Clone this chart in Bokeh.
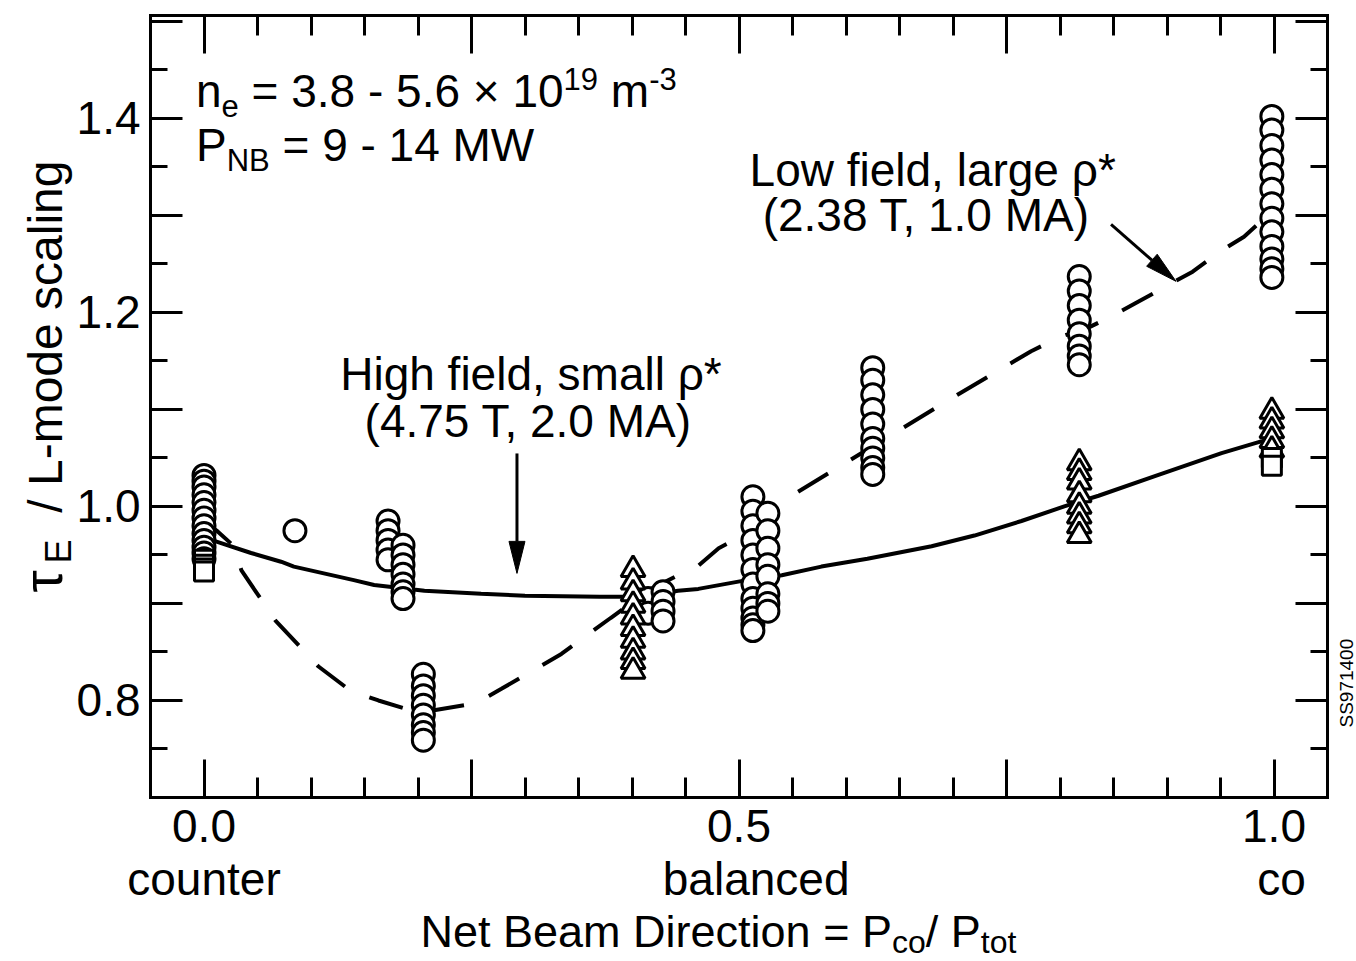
import math

from bokeh.plotting import figure
from bokeh.models import Range1d, LinearAxis, FixedTicker, Label, Grid
from bokeh.embed import file_html
from bokeh.resources import INLINE

FONT = "Liberation Sans"

# ---- measured confinement (tau_E normalised to L-mode scaling) ----
# open circles
circle_x = ([0.0] * 13 + [0.085] + [0.172] * 5 + [0.186] * 7 + [0.205] * 8
            + [0.415] * 2 + [0.429] * 4 + [0.513] * 12 + [0.527] * 8
            + [0.625] * 10 + [0.818] * 8 + [0.998] * 13)
circle_y = ([1.032, 1.026, 1.020, 1.012, 1.004, 0.996, 0.988, 0.980, 0.972, 0.965, 0.958, 0.952, 0.946]
            + [0.975]
            + [0.985, 0.975, 0.965, 0.955, 0.945]
            + [0.960, 0.950, 0.940, 0.930, 0.920, 0.912, 0.905]
            + [0.827, 0.815, 0.805, 0.795, 0.785, 0.775, 0.767, 0.759]
            + [0.905, 0.890]
            + [0.912, 0.902, 0.892, 0.882]
            + [1.010, 0.995, 0.980, 0.965, 0.950, 0.935, 0.920, 0.905, 0.895, 0.885, 0.878, 0.872]
            + [0.993, 0.975, 0.957, 0.940, 0.928, 0.910, 0.900, 0.892]
            + [1.143, 1.130, 1.115, 1.100, 1.085, 1.070, 1.060, 1.050, 1.040, 1.033]
            + [1.237, 1.222, 1.207, 1.192, 1.178, 1.165, 1.155, 1.146]
            + [1.402, 1.388, 1.372, 1.357, 1.342, 1.327, 1.312, 1.297, 1.283, 1.268, 1.255, 1.245, 1.236])

# open triangles
triangle_x = [0.401] * 10 + [0.818] * 8 + [0.998] * 5
triangle_y = ([0.935, 0.922, 0.910, 0.898, 0.886, 0.874, 0.862, 0.850, 0.840, 0.830]
              + [1.045, 1.035, 1.025, 1.012, 1.000, 0.990, 0.980, 0.970]
              + [1.098, 1.088, 1.078, 1.068, 1.058])

# open squares
square_x = [0.0] * 4 + [0.998] * 2
square_y = [0.945, 0.940, 0.936, 0.933, 1.050, 1.042]

# high field, small rho* (solid curve)
high_x = [0.0, 0.011, 0.044, 0.072, 0.084, 0.140, 0.159, 0.206, 0.259, 0.300, 0.370, 0.410,
          0.443, 0.462, 0.502, 0.540, 0.577, 0.620, 0.680, 0.720, 0.764, 0.804, 0.836,
          0.888, 0.951, 0.988, 1.0]
high_y = [0.970, 0.964, 0.952, 0.943, 0.938, 0.924, 0.919, 0.913, 0.910, 0.908, 0.907, 0.907,
          0.913, 0.915, 0.923, 0.929, 0.938, 0.946, 0.959, 0.970, 0.985, 1.000, 1.011,
          1.031, 1.055, 1.067, 1.070]

# low field, large rho* (dashed curve)
low_x = [0.0, 0.013, 0.027, 0.035, 0.051, 0.067, 0.091, 0.107, 0.137, 0.163, 0.193, 0.215,
         0.254, 0.278, 0.334, 0.380, 0.418, 0.443, 0.462, 0.481, 0.502, 0.536, 0.555,
         0.625, 0.707, 0.773, 0.801, 0.826, 0.850, 0.873, 0.901, 0.924, 0.950, 0.972,
         0.988, 1.0]
low_y = [0.985, 0.974, 0.960, 0.934, 0.908, 0.882, 0.854, 0.835, 0.810, 0.800, 0.790, 0.790,
         0.797, 0.812, 0.848, 0.885, 0.915, 0.929, 0.939, 0.957, 0.969, 1.001, 1.015,
         1.062, 1.117, 1.160, 1.175, 1.184, 1.197, 1.211, 1.228, 1.242, 1.263, 1.278,
         1.294, 1.300]

# axis ticks
x_major = [0.0, 0.25, 0.5, 0.75, 1.0]
x_minor = [-0.05, 0.05, 0.1, 0.15, 0.2, 0.3, 0.35, 0.4, 0.45, 0.55, 0.6, 0.65, 0.7,
           0.8, 0.85, 0.9, 0.95, 1.05]
x_labels = {0.0: "0.0", 0.25: "", 0.5: "0.5", 0.75: "", 1.0: "1.0"}
x_words = ["counter", "balanced", "co"]
x_word_pos = [0.0, 0.516, 1.007]

y_major = [0.7, 0.8, 0.9, 1.0, 1.1, 1.2, 1.3, 1.4, 1.5]
y_minor = [0.75, 0.85, 0.95, 1.05, 1.15, 1.25, 1.35, 1.45]
y_labels = {0.7: "", 0.8: "0.8", 0.9: "", 1.0: "1.0", 1.1: "", 1.2: "1.2",
            1.3: "", 1.4: "1.4", 1.5: ""}

X_BOX = (-0.05, 1.05)
Y_BOX = (0.7, 1.506)

# ---- page geometry (pixels) ----
PAGE_W, PAGE_H = 1356, 961
BOX_L, BOX_R, BOX_T, BOX_B = 150, 1327, 15, 797
PX_PER_X = (BOX_R - BOX_L) / (X_BOX[1] - X_BOX[0])
PX_PER_Y = (BOX_B - BOX_T) / (Y_BOX[1] - Y_BOX[0])

# the drawing area spans the whole page; the axes are pinned to the box edges
x_range = Range1d(X_BOX[0] - BOX_L / PX_PER_X, X_BOX[1] + (PAGE_W - BOX_R) / PX_PER_X)
y_range = Range1d(Y_BOX[0] - (PAGE_H - BOX_B) / PX_PER_Y, Y_BOX[1] + BOX_T / PX_PER_Y)


def dx(px):
    """Data x of a horizontal page pixel."""
    return x_range.start + px / PX_PER_X


def dy(py):
    """Data y of a vertical page pixel (measured from the top)."""
    return y_range.end - py / PX_PER_Y


# approximate advance widths (1/1000 em) of the sans face, used to chain
# sub/superscript pieces of a label
ADV = {" ": 278, "(": 333, ")": 333, "*": 389, ",": 278, "-": 333, ".": 278, "/": 278,
       "=": 584, "\u00d7": 584, "A": 667, "B": 667, "D": 722, "E": 667, "L": 556,
       "M": 833, "N": 722, "P": 667, "T": 611, "W": 944, "a": 556, "b": 556, "c": 500,
       "d": 556, "e": 556, "f": 278, "g": 556, "i": 222, "l": 222, "m": 833, "n": 556,
       "o": 556, "r": 333, "s": 500, "t": 278, "\u03c4": 520}

# labels land a little below the requested baseline; lift them by this share of the size
BASE_LIFT = 0.32


def advance(text, size):
    return sum(ADV.get(ch, 556) for ch in text) * size / 1000.0


def put(plot, x, y, text, size, align="left", along=0.0, rise=0.0, vertical=False):
    rise = rise + BASE_LIFT * size
    if vertical:
        xo, yo, ang = -rise, along, math.pi / 2
    else:
        xo, yo, ang = along, rise, 0.0
    plot.add_layout(Label(x=x, y=y, x_offset=xo, y_offset=yo, angle=ang, text=text,
                          text_font=FONT, text_font_size=f"{size}px", text_color="black",
                          text_align=align, text_baseline="alphabetic"))


def rich_text(plot, x, y, parts, vertical=False):
    """Place a run of (text, font px, baseline shift px) pieces one after another."""
    pos = 0.0
    for text, size, shift in parts:
        lead = len(text) - len(text.lstrip(" "))
        pos += advance(" " * lead, size)
        body = text[lead:]
        put(plot, x, y, body.rstrip(" "), size, along=pos, rise=shift, vertical=vertical)
        pos += advance(body, size)


p = figure(width=PAGE_W, height=PAGE_H, x_range=x_range, y_range=y_range,
           output_backend="svg", toolbar_location=None,
           x_axis_location=None, y_axis_location=None, min_border=0)
for g in p.select(type=Grid):
    g.visible = False
p.background_fill_color = "white"
p.border_fill_color = "white"
p.outline_line_color = None


def box_axis(side, ticker, where, major_len, minor_len, overrides, size, standoff):
    ax = LinearAxis(ticker=ticker, fixed_location=where,
                    bounds=X_BOX if side in ("below", "above") else Y_BOX)
    ax.axis_line_color = "black"
    ax.axis_line_width = 3
    ax.axis_line_cap = "square"
    ax.major_tick_in = major_len
    ax.major_tick_out = 0
    ax.minor_tick_in = minor_len
    ax.minor_tick_out = 0
    ax.major_tick_line_width = 3
    ax.minor_tick_line_width = 3
    ax.major_tick_line_color = "black"
    ax.minor_tick_line_color = "black"
    ax.major_label_overrides = overrides
    ax.major_label_text_font = FONT
    ax.major_label_text_color = "black"
    ax.major_label_text_font_size = f"{size}px"
    ax.major_label_standoff = standoff
    p.add_layout(ax, side)
    return ax


xticker = FixedTicker(ticks=x_major, minor_ticks=x_minor)
yticker = FixedTicker(ticks=y_major, minor_ticks=y_minor)

box_axis("below", xticker, Y_BOX[0], 38, 20, x_labels, 46, 12)
box_axis("left", yticker, X_BOX[0], 32, 17, y_labels, 46, 10)
box_axis("above", xticker, Y_BOX[1], 38, 20, {t: "" for t in x_major}, 10, 0)
box_axis("right", yticker, X_BOX[1], 32, 17, {t: "" for t in y_major}, 10, 0)

# model curves
p.line(high_x, high_y, line_color="black", line_width=4)
p.line(low_x, low_y, line_color="black", line_width=4, line_dash="35 27")

# data points
p.scatter(circle_x, circle_y, marker="circle", size=22, fill_color="white",
          line_color="black", line_width=3)
p.scatter(triangle_x, triangle_y, marker="triangle", size=24, fill_color="white",
          line_color="black", line_width=3)
p.scatter(square_x, square_y, marker="square", size=19, fill_color="white",
          line_color="black", line_width=3)

# plasma conditions
rich_text(p, -0.0075, 1.413, [("n", 46, 0), ("e", 31, -10),
                              (" = 3.8 - 5.6 \u00d7 10", 46, 0), ("19", 31, 17),
                              (" m", 46, 0), ("-3", 31, 17)])
rich_text(p, -0.0075, 1.357, [("P", 46, 0), ("NB", 31, -10), (" = 9 - 14 MW", 46, 0)])

# curve annotations
for txt, xx, yy in [("Low field, large \u03c1*", 0.681, 1.332),
                    ("(2.38 T, 1.0 MA)", 0.675, 1.285),
                    ("High field, small \u03c1*", 0.3056, 1.1216),
                    ("(4.75 T, 2.0 MA)", 0.303, 1.073)]:
    put(p, xx, yy, txt, 46, align="center")


def pointer(plot, xs, ys, xe, ye, head_len=32, head_half=8):
    """Straight pointer with a slim filled head, sized in pixels."""
    ddx, ddy = (xe - xs) * PX_PER_X, (ye - ys) * PX_PER_Y
    n = math.hypot(ddx, ddy)
    ux, uy = ddx / n, ddy / n
    bx, by = xe - ux * head_len / PX_PER_X, ye - uy * head_len / PX_PER_Y
    wx, wy = -uy * head_half / PX_PER_X, ux * head_half / PX_PER_Y
    plot.line([xs, bx], [ys, by], line_color="black", line_width=3)
    plot.patch([xe, bx + wx, bx - wx], [ye, by + wy, by - wy],
               fill_color="black", line_color="black", line_width=1)


pointer(p, 0.2925, 1.0546, 0.2925, 0.931)
pointer(p, 0.8477, 1.2907, 0.9084, 1.232)

# second line of the x tick labels and the x title
for word, xx in zip(x_words, x_word_pos):
    put(p, xx, dy(893), word, 46, align="center")
rich_text(p, dx(420), dy(945), [("Net Beam Direction = P", 45, 0), ("co", 32, -7),
                                ("/ P", 45, 0), ("tot", 32, -7)])

# y title, reading upwards
rich_text(p, dx(60), dy(592), [("\u03c4", 56, 0), ("E", 36, -10),
                               ("  /  L-mode scaling", 48, 0)], vertical=True)

# figure code
put(p, dx(1352), dy(727), "SS971400", 19, vertical=True)

open("out.html", "w").write(file_html(p, INLINE))
